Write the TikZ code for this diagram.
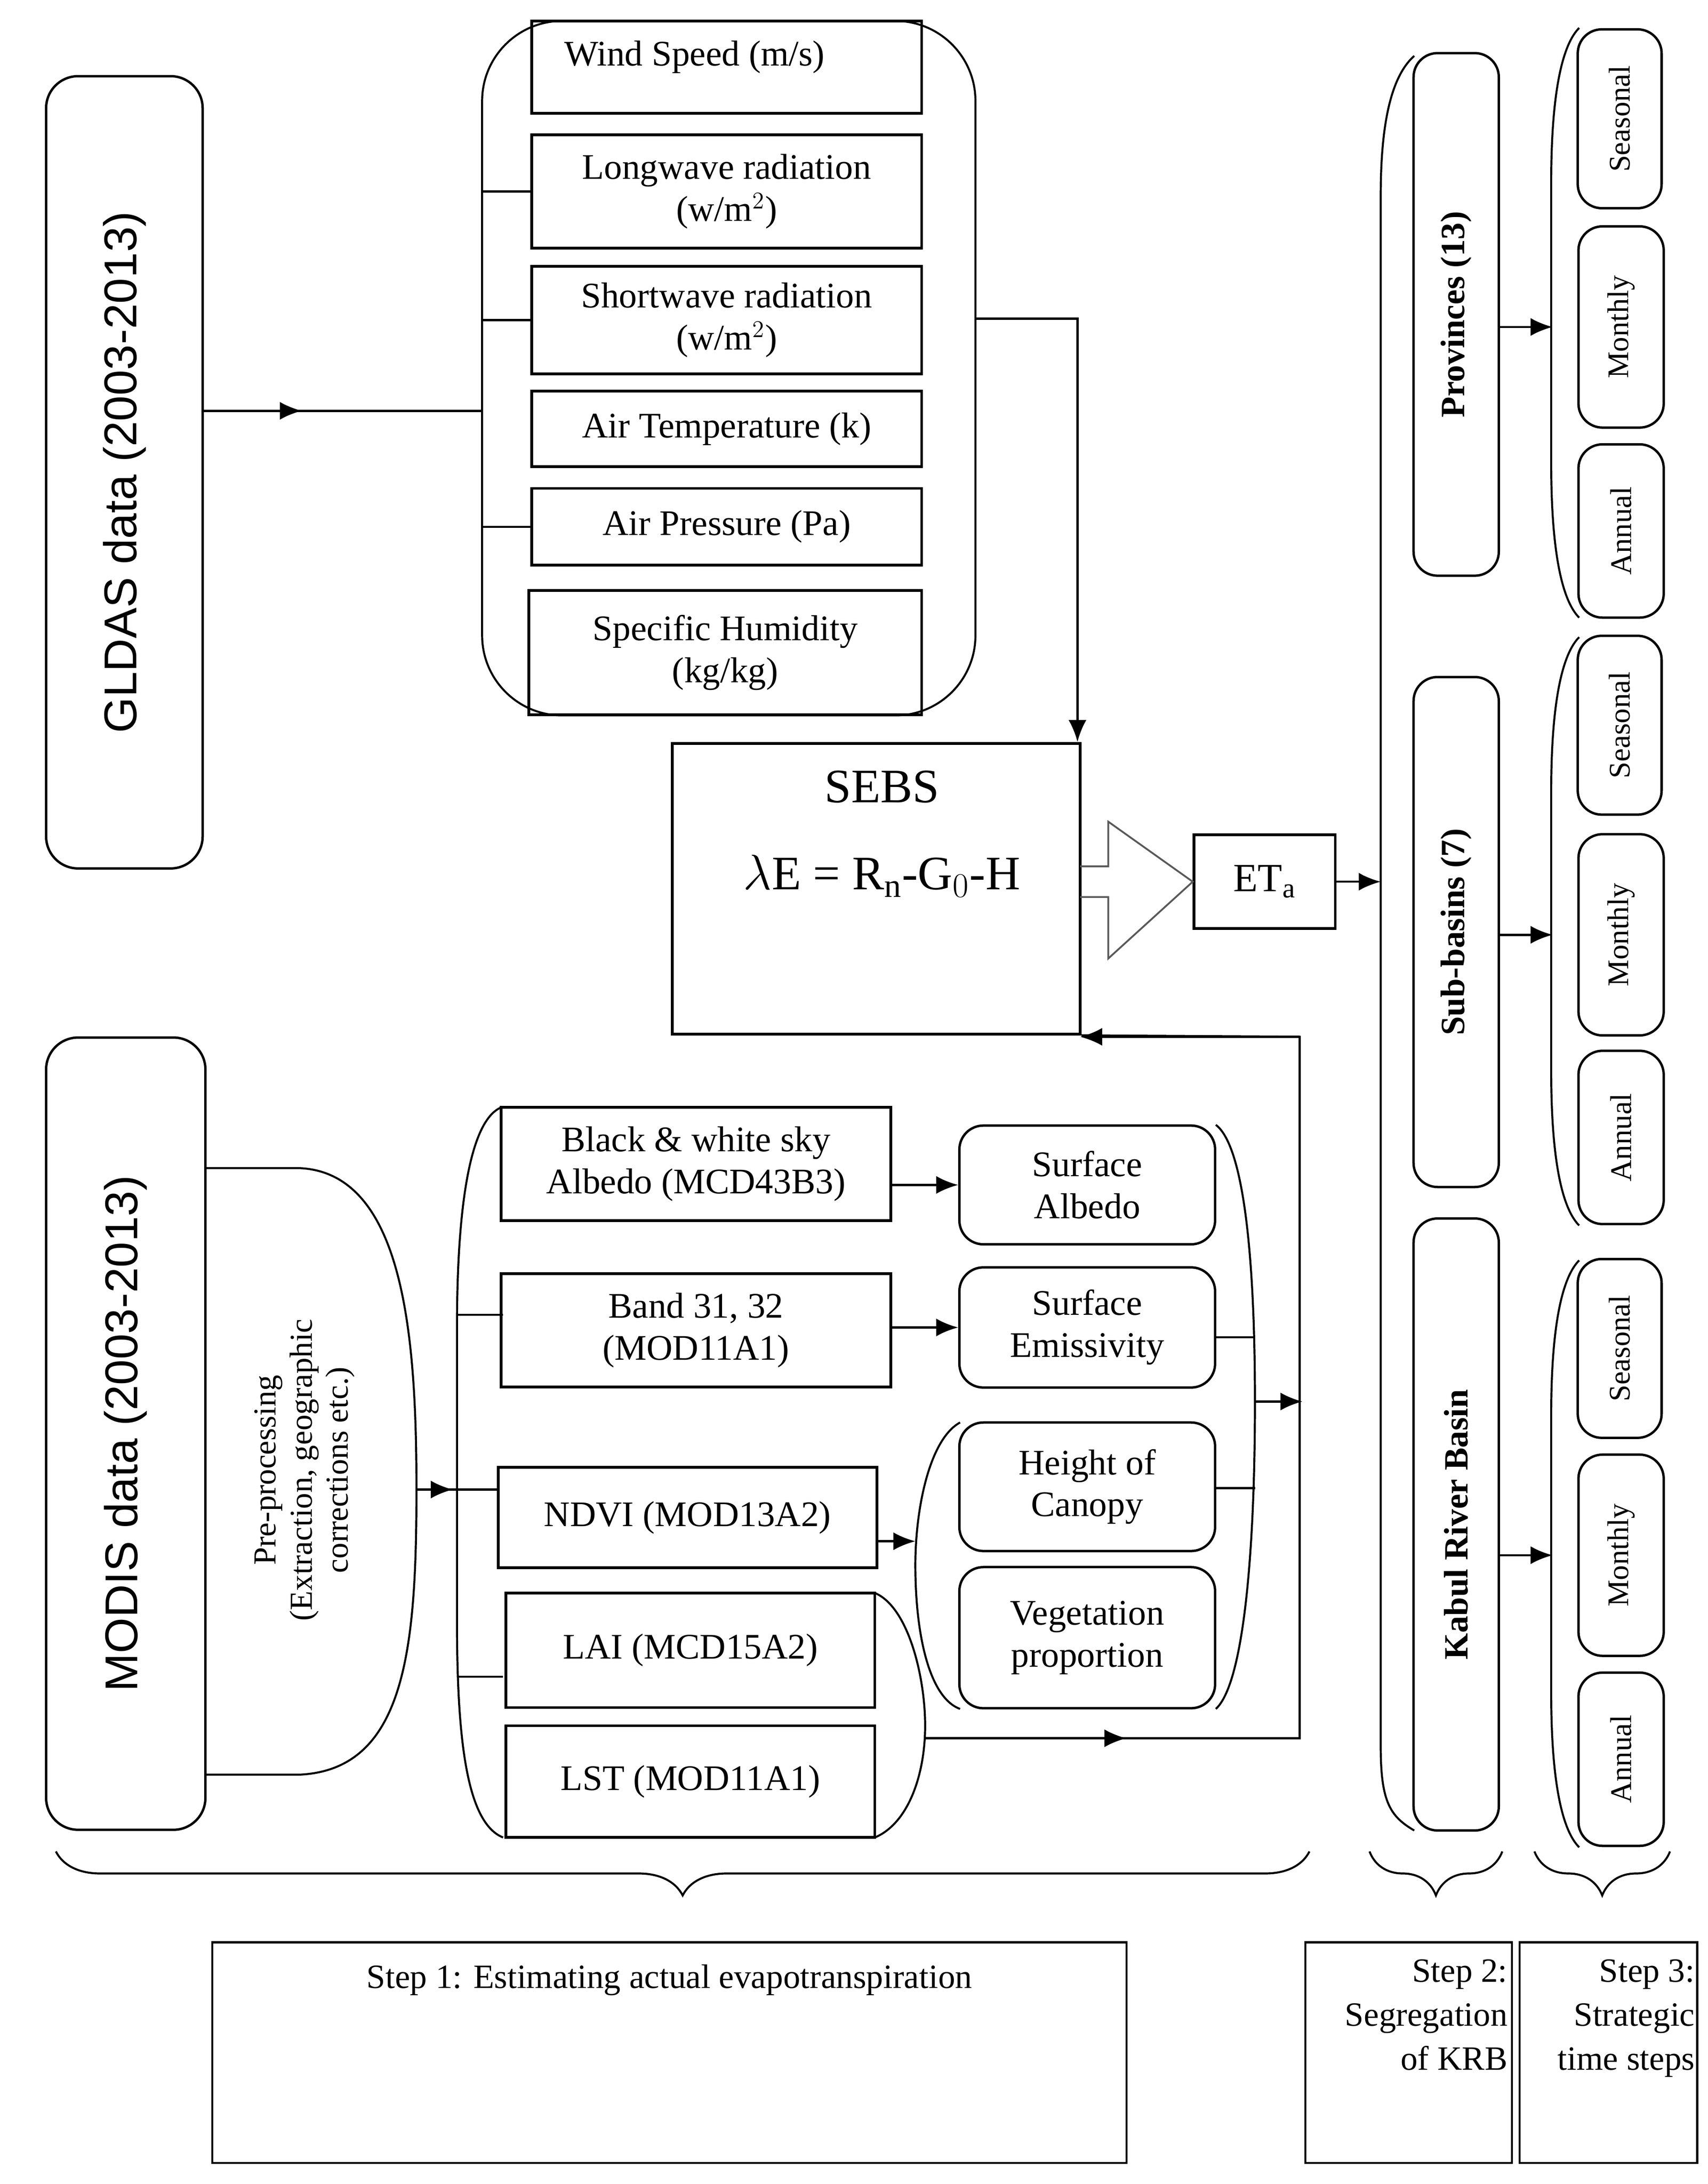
\documentclass[tikz,border=0pt]{standalone}
\usepackage{fontspec}
\setmainfont{Liberation Serif}
\newfontfamily\sansf{Liberation Sans}
\usetikzlibrary{arrows.meta,decorations.pathreplacing}

\begin{document}
\begin{tikzpicture}[x=0.02455cm,y=-0.02455cm]

\tikzset{box/.style={draw,line width=1.4pt,inner sep=0pt,font=\fontsize{18}{21}\selectfont,align=center},
         rbox/.style={box,rounded corners=12pt,line width=1.2pt},
         side/.style={rbox,rounded corners=16pt,font=\sansf\fontsize{23}{26}\selectfont},
         region/.style={rbox,font=\bfseries\fontsize{17}{20}\selectfont},
         time/.style={rbox,font=\fontsize{15}{18}\selectfont},
         ln/.style={line width=1.1pt},
         arr/.style={ln,-{Latex[length=11pt,width=9pt]}},
         brk/.style={line width=1pt},
         brc/.style={line width=1pt,decorate,decoration={brace,amplitude=22pt}}}

\useasboundingbox (0,0) rectangle (1222,1563);

% GLDAS inputs
\node[side,minimum width=112*0.02455cm,minimum height=567*0.02455cm] (gldas) at (89,338) {};
\node[font=\sansf\fontsize{23}{26}\selectfont,rotate=90] at (gldas) {GLDAS data (2003-2013)};
\draw[brk,rounded corners=40pt] (381,15) -- (345,15) -- (345,512) -- (698,512) -- (698,15) -- (660,15);
\node[box,minimum width=279*0.02455cm,minimum height=66*0.02455cm] (wind) at (520,48) {};
\node[font=\fontsize{18}{21}\selectfont] at (497,41) {Wind Speed (m/s)};
\node[box,minimum width=279*0.02455cm,minimum height=81*0.02455cm] (lw) at (520,137) {Longwave radiation\\(w/m$^2$)};
\node[box,minimum width=279*0.02455cm,minimum height=77*0.02455cm] (sw) at (520,229) {Shortwave radiation\\(w/m$^2$)};
\node[box,minimum width=279*0.02455cm,minimum height=54*0.02455cm] (temp) at (520,307) {Air Temperature  (k)};
\node[box,minimum width=279*0.02455cm,minimum height=55*0.02455cm] (pres) at (520,377) {Air Pressure (Pa)};
\node[box,minimum width=281*0.02455cm,minimum height=89*0.02455cm] (hum) at (519,467) {Specific Humidity\\(kg/kg)};
\foreach \y in {137,229,377} \draw[ln] (345,\y) -- (381,\y);
\coordinate (gin) at (345,294);
\draw[ln] (gldas.east |- gin) -- (gin);
\draw[arr] (gldas.east |- gin) -- (216,294);

% SEBS
\node[box,minimum width=292*0.02455cm,minimum height=208*0.02455cm] (sebs) at (627,636) {};
\node[font=\fontsize{24}{28}\selectfont] at (631,563) {SEBS};
\node[font=\fontsize{24}{28}\selectfont] at (631,627) {$\lambda$E = R$_{\mathrm{n}}$-G$_0$-H};
\draw[arr] (698,228) -- (771,228) -- (771,531);
\node[box,minimum width=101*0.02455cm,minimum height=67*0.02455cm,font=\fontsize{20}{24}\selectfont] (eta) at (905,631) {ET$_{\mathrm{a}}$};
\draw[line width=0.9pt,draw=black!65] (773,620) -- (793,620) -- (793,588) -- (eta.west) -- (793,686) -- (793,642) -- (773,642);

% MODIS inputs
\node[side,minimum width=114*0.02455cm,minimum height=567*0.02455cm] (modis) at (90,1026) {};
\node[font=\sansf\fontsize{23}{26}\selectfont,rotate=90] at (modis) {MODIS data (2003-2013)};
\draw[brk] (147,836) -- (215,836) .. controls (290,840) and (298,960) .. (298,1066) .. controls (298,1180) and (290,1266) .. (215,1270) -- (147,1270);
\node[rotate=90,align=center,font=\fontsize{16}{18}\selectfont] (pre) at (218,1052) {Pre-processing\\(Extraction, geographic\\corrections etc.)};
\draw[brk] (360,792) .. controls (335,800) and (327,870) .. (327,950) -- (327,1160) .. controls (327,1250) and (335,1305) .. (360,1315);
\draw[ln] (298,1066) -- (357,1066);
\draw[arr] (298,1066) -- (324,1066);
\node[box,minimum width=279*0.02455cm,minimum height=81*0.02455cm] (alb) at (498,833) {Black \& white sky\\Albedo (MCD43B3)};
\node[box,minimum width=279*0.02455cm,minimum height=81*0.02455cm] (band) at (498,952) {Band 31, 32\\(MOD11A1)};
\node[box,minimum width=271*0.02455cm,minimum height=72*0.02455cm] (ndvi) at (492,1086) {NDVI (MOD13A2)};
\node[box,minimum width=264*0.02455cm,minimum height=82*0.02455cm] (lai) at (494,1181) {LAI (MCD15A2)};
\node[box,minimum width=264*0.02455cm,minimum height=80*0.02455cm] (lst) at (494,1275) {LST (MOD11A1)};
\foreach \y in {941,1200} \draw[ln] (327,\y) -- (360,\y);
\draw[brk] (626,1140) .. controls (650,1150) and (662,1200) .. (662,1235) .. controls (662,1270) and (650,1305) .. (626,1315);

\node[rbox,minimum width=183*0.02455cm,minimum height=85*0.02455cm] (salb) at (778,848) {Surface\\Albedo};
\node[rbox,minimum width=183*0.02455cm,minimum height=86*0.02455cm] (semi) at (778,950) {Surface\\Emissivity};
\node[rbox,minimum width=183*0.02455cm,minimum height=92*0.02455cm] (hgt) at (778,1064) {Height of\\Canopy};
\node[rbox,minimum width=183*0.02455cm,minimum height=101*0.02455cm] (veg) at (778,1172) {Vegetation\\proportion};
\draw[arr] (alb.east |- salb.west) -- (salb.west);
\draw[arr] (band.east |- semi.west) -- (semi.west);
\draw[arr] (628,1103) -- (655,1103);
\draw[brk] (687,1018) .. controls (665,1030) and (655,1080) .. (655,1120) .. controls (655,1170) and (665,1215) .. (687,1223);
\draw[brk] (870,805) .. controls (890,820) and (898,900) .. (898,1003) .. controls (898,1110) and (890,1205) .. (870,1223);
\foreach \y in {957,1065} \draw[ln] (870,\y) -- (898,\y);
\draw[arr] (898,1003) -- (932,1003);
\draw[ln] (662,1244) -- (930,1244) -- (930,742) -- (sebs.south east);
\draw[arr] (662,1244) -- (806,1244);
\draw[arr] (930,742) -- (773,742);

% Step 2: segregation
\draw[brk] (1012,40) .. controls (995,55) and (988,90) .. (988,140) -- (988,1250) .. controls (988,1290) and (995,1300) .. (1012,1310);
\node[region,minimum width=61*0.02455cm,minimum height=374*0.02455cm] (prov) at (1042,225) {};
\node[region,minimum width=61*0.02455cm,minimum height=365*0.02455cm] (sub) at (1042,667) {};
\node[region,minimum width=61*0.02455cm,minimum height=438*0.02455cm] (krb) at (1042,1091) {};
\node[rotate=90,font=\bfseries\fontsize{17}{20}\selectfont] at (prov) {Provinces (13)};
\node[rotate=90,font=\bfseries\fontsize{17}{20}\selectfont] at (sub) {Sub-basins (7)};
\node[rotate=90,font=\bfseries\fontsize{17}{20}\selectfont] at (krb) {Kabul River Basin};
\coordinate (seg) at (988,631);
\draw[arr] (eta.east) -- (seg);

% Step 3: time steps
\foreach \n/\a/\b/\sy/\my/\ay in {p/20/442/85/234/380, s/456/877/519/669/814, k/902/1322/965/1113/1259}{
  \draw[brk] (1130,\a) .. controls (1115,\a+15) and (1110,\a+60) .. (1110,\a+110) -- (1110,\b-110) .. controls (1110,\b-60) and (1115,\b-15) .. (1130,\b);
  \node[time,minimum width=60*0.02455cm,minimum height=128*0.02455cm] (\n sea) at (1159,\sy) {};
  \node[time,minimum width=61*0.02455cm,minimum height=144*0.02455cm] (\n mon) at (1160,\my) {};
  \node[time,minimum width=61*0.02455cm,minimum height=124*0.02455cm] (\n ann) at (1160,\ay) {};
  \node[rotate=90,font=\fontsize{15}{18}\selectfont] at (\n sea) {Seasonal};
  \node[rotate=90,font=\fontsize{15}{18}\selectfont] at (\n mon) {Monthly};
  \node[rotate=90,font=\fontsize{15}{18}\selectfont] at (\n ann) {Annual};
  \coordinate (\n t) at (1111,\my);
}
\draw[arr] (prov.east |- pt) -- (pt);
\draw[arr] (sub.east |- st) -- (st);
\draw[arr] (krb.east |- kt) -- (kt);

% steps
\draw[brc] (937,1325) -- (40,1325);
\draw[brc] (1075,1325) -- (980,1325);
\draw[brc] (1195,1325) -- (1098,1325);
\node[draw,line width=1pt,minimum width=654*0.02455cm,minimum height=158*0.02455cm] (s1) at (479,1469) {};
\node[font=\fontsize{17}{20}\selectfont] at (479,1417) {Step 1: Estimating  actual evapotranspiration};
\node[draw,line width=1pt,minimum width=148*0.02455cm,minimum height=158*0.02455cm] (s2) at (1008,1469) {};
\node[draw,line width=1pt,minimum width=127*0.02455cm,minimum height=158*0.02455cm] (s3) at (1151,1469) {};
\node[anchor=north east,align=right,font=\fontsize{17}{22}\selectfont,inner sep=0pt] at (1079,1402) {Step 2:\\Segregation\\of KRB};
\node[anchor=north east,align=right,font=\fontsize{17}{22}\selectfont,inner sep=0pt] at (1213,1402) {Step 3:\\Strategic\\time steps};

\end{tikzpicture}
\end{document}
